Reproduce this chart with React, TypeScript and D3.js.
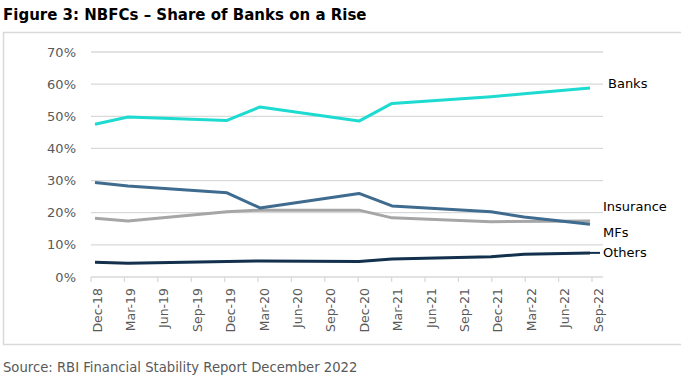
import React from "react";
import * as d3 from "d3";

const quarters = ["Dec-18","Mar-19","Jun-19","Sep-19","Dec-19","Mar-20","Jun-20","Sep-20","Dec-20","Mar-21","Jun-21","Sep-21","Dec-21","Mar-22","Jun-22","Sep-22"];
const yTicks = [0, 10, 20, 30, 40, 50, 60, 70];

// observed data points (quarter label, share %)
const banksDates = ["Dec-18","Mar-19","Dec-19","Mar-20","Dec-20","Mar-21","Dec-21","Mar-22","Sep-22"];
const banksValues = [47.5, 49.8, 48.7, 52.9, 48.5, 54.0, 56.1, 57.0, 58.8];
const mfsDates = ["Dec-18","Mar-19","Dec-19","Mar-20","Dec-20","Mar-21","Dec-21","Mar-22","Sep-22"];
const mfsValues = [29.4, 28.3, 26.2, 21.5, 26.0, 22.1, 20.3, 18.7, 16.4];
const insuranceDates = ["Dec-18","Mar-19","Dec-19","Mar-20","Dec-20","Mar-21","Dec-21","Sep-22"];
const insuranceValues = [18.3, 17.4, 20.3, 20.8, 20.8, 18.4, 17.2, 17.4];
const othersDates = ["Dec-18","Mar-19","Dec-19","Mar-20","Dec-20","Mar-21","Dec-21","Mar-22","Sep-22"];
const othersValues = [4.6, 4.3, 4.8, 5.0, 4.8, 5.6, 6.3, 7.1, 7.5];

const seriesNames = ["Banks", "Insurance", "MFs", "Others"];
const seriesColors = ["#1ddbd0", "#a6a6a6", "#3f6b8f", "#13304d"];

const FONT = "Tahoma, 'DejaVu Sans', Verdana, sans-serif";

export default function App() {
  const W = 681, H = 383;
  const plotLeft = 91, plotRight = 603, plotTop = 52, plotBottom = 277;
  const y = d3.scaleLinear().domain([0, 70]).range([plotBottom, plotTop]);
  const xTick = d3.scaleLinear().domain([0, quarters.length - 1]).range([91, 592]);
  const xData = d3.scaleLinear().domain([0, quarters.length - 1]).range([95, 590]);
  const idx = (q: string) => quarters.indexOf(q);

  const series = [
    { name: "Banks", dates: banksDates, values: banksValues, color: seriesColors[0] },
    { name: "Insurance", dates: insuranceDates, values: insuranceValues, color: seriesColors[1] },
    { name: "MFs", dates: mfsDates, values: mfsValues, color: seriesColors[2] },
    { name: "Others", dates: othersDates, values: othersValues, color: seriesColors[3] },
  ];
  const line = d3.line<[number, number]>().x(d => xData(d[0])).y(d => y(d[1]));

  const labelPos: Record<string, { x: number; y: number }> = {
    Banks: { x: 608, y: 83 },
    Insurance: { x: 603, y: 206 },
    MFs: { x: 603, y: 232 },
    Others: { x: 603, y: 252 },
  };

  return (
    <div style={{ position: "absolute", left: 0, top: 0, width: W, height: H, background: "#fff" }}>
      <svg width={W} height={H} style={{ display: "block" }}>
        <rect x={0} y={0} width={W} height={H} fill="#fff" />
        <text x={3} y={20} fontFamily={FONT} fontWeight="bold" fontSize={15} fill="#000">
          Figure 3: NBFCs – Share of Banks on a Rise
        </text>
        <rect x={3.5} y={32.5} width={W + 10} height={312} fill="none" stroke="#d9d9d9" strokeWidth={1.5} />
        {yTicks.map(t => (
          <g key={t}>
            {t > 0 && <line x1={plotLeft} x2={plotRight} y1={y(t)} y2={y(t)} stroke="#d9d9d9" strokeWidth={1.3} />}
            <text x={76} y={y(t)} textAnchor="end" dominantBaseline="central" fontFamily={FONT} fontSize={13} fill="#595959">
              {t}%
            </text>
          </g>
        ))}
        <line x1={plotLeft} x2={plotRight} y1={plotBottom} y2={plotBottom} stroke="#d9d9d9" strokeWidth={1.3} />
        {quarters.map((q, i) => (
          <g key={q}>
            <line x1={xTick(i)} x2={xTick(i)} y1={plotBottom} y2={plotBottom + 5} stroke="#d9d9d9" strokeWidth={1.3} />
            <text
              transform={`translate(${xTick(i) + 6},${plotBottom + 11}) rotate(-90)`}
              textAnchor="end"
              dominantBaseline="central"
              fontFamily={FONT}
              fontSize={12.5}
              fill="#595959"
            >
              {q}
            </text>
          </g>
        ))}
        {series.map(s => (
          <path
            key={s.name}
            d={line(s.dates.map((d, i) => [idx(d), s.values[i]] as [number, number])) || ""}
            fill="none"
            stroke={s.color}
            strokeWidth={3}
            strokeLinejoin="round"
          />
        ))}
        <line x1={xData(15)} x2={600} y1={y(othersValues[othersValues.length - 1])} y2={y(othersValues[othersValues.length - 1])} stroke={seriesColors[3]} strokeWidth={2} />
        {seriesNames.map(n => {
          const p = labelPos[n];
          return (
            <g key={n}>
              <text x={p.x} y={p.y} dominantBaseline="central" fontFamily={FONT} fontSize={13} fill="#000">
                {n}
              </text>
            </g>
          );
        })}
        <text x={3} y={367} dominantBaseline="central" fontFamily={FONT} fontSize={13.2} fill="#595959">
          Source: RBI Financial Stability Report December 2022
        </text>
      </svg>
    </div>
  );
}
